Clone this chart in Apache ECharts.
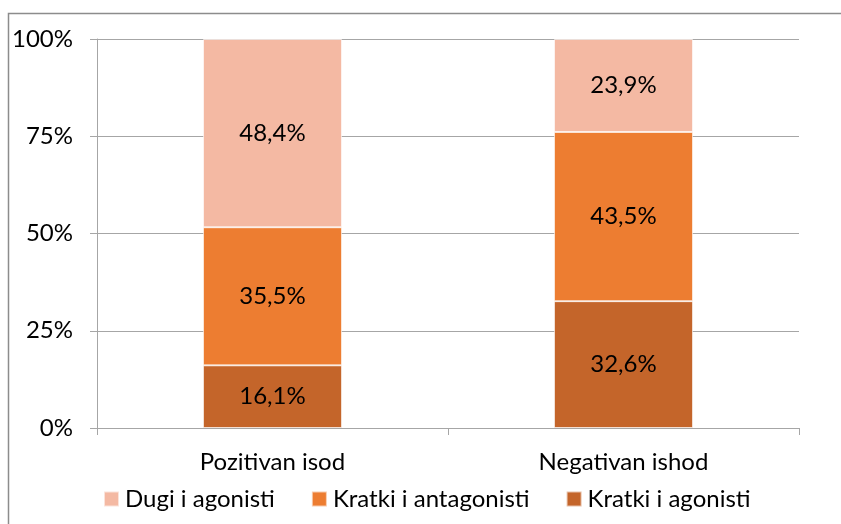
<!DOCTYPE html>
<html>
<head>
<meta charset="utf-8">
<script src="https://cdn.jsdelivr.net/npm/echarts@6/dist/echarts.min.js"></script>
<style>
  html, body { margin: 0; padding: 0; background: #fff; }
  #chart { width: 841px; height: 524px; }
</style>
</head>
<body>
<div id="chart"></div>
<script>
// kategorije i vrijednosti (%)
const categories = ['Pozitivan isod', 'Negativan ishod']
const kratkiAgonisti = [16.1, 32.6]
const kratkiAntagonisti = [35.5, 43.5]
const dugiAgonisti = [48.4, 23.9]
const yTicks = [0, 25, 50, 75, 100]

const font = 'Lato, "Open Sans", sans-serif'
const fmt = p => p.value.toFixed(1).replace('.', ',') + '%'

const chart = echarts.init(document.getElementById('chart'))

const makeSeries = (name, data, color) => ({
    name,
    type: 'bar',
    stack: 'total',
    data,
    barWidth: 139,
    itemStyle: { color, borderColor: 'rgba(255,255,255,0.6)', borderWidth: 1 },
    label: {
        show: true,
        formatter: fmt,
        color: '#000',
        fontSize: 24,
        fontFamily: font
    }
})

const option = {
    animation: false,
    backgroundColor: '#fff',
    graphic: [
        {
            type: 'rect',
            shape: { x: 8.5, y: 13.5, width: 860, height: 540 },
            style: { fill: 'none', stroke: '#8c8c8c', lineWidth: 1.5 }
        }
    ],
    grid: { left: 97, right: 42, top: 39, bottom: 96 },
    legend: {
        bottom: 8,
        left: 98,
        itemWidth: 15,
        itemHeight: 15,
        itemGap: 36,
        icon: 'rect',
        textStyle: { fontSize: 24, fontFamily: font, color: '#000', padding: [0, 0, 0, 1] },
        data: ['Dugi i agonisti', 'Kratki i antagonisti', 'Kratki i agonisti']
    },
    xAxis: {
        type: 'category',
        data: categories,
        axisLine: { lineStyle: { color: '#a6a6a6', width: 1 } },
        axisTick: { show: true, length: 7, lineStyle: { color: '#a6a6a6' } },
        axisLabel: { fontSize: 24, fontFamily: font, color: '#000', margin: 22 }
    },
    yAxis: {
        type: 'value',
        min: 0,
        max: 100,
        interval: 25,
        axisLine: { show: true, lineStyle: { color: '#a6a6a6' } },
        axisTick: { show: true, length: 7, lineStyle: { color: '#a6a6a6' } },
        splitLine: { lineStyle: { color: '#a6a6a6', width: 1 } },
        axisLabel: {
            fontSize: 24,
            fontFamily: font,
            color: '#000',
            margin: 24,
            formatter: v => (yTicks.includes(v) ? v + '%' : '')
        }
    },
    series: [
        makeSeries('Kratki i agonisti', kratkiAgonisti, '#c4652a'),
        makeSeries('Kratki i antagonisti', kratkiAntagonisti, '#ed7d31'),
        makeSeries('Dugi i agonisti', dugiAgonisti, '#f4b9a3')
    ]
}

chart.setOption(option)
</script>
</body>
</html>
